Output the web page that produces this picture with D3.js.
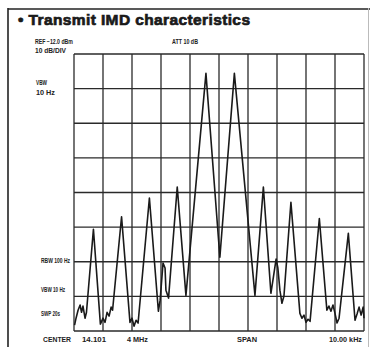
<!DOCTYPE html>
<html>
<head>
<meta charset="utf-8">
<script src="https://cdn.jsdelivr.net/npm/d3@7"></script>
<style>
  body { margin: 0; background: #fff; }
  svg { display: block; }
  .lbl { font-family: "Liberation Sans", Arial, sans-serif; font-weight: bold; font-size: 6.4px; fill: #222; }
</style>
</head>
<body>
<div id="chart"></div>
<script>
// trace: offset from center (kHz), level (dB below top line)
const traceKHz = [-4.98,-4.93,-4.86,-4.79,-4.74,-4.69,-4.62,-4.57,-4.33,-4.09,-4.0,-3.93,-3.86,-3.79,-3.72,-3.67,
  -3.36,-3.07,-3.0,-2.93,-2.86,-2.79,-2.40,-2.09,-2.03,-1.93,-1.86,-1.83,-1.74,-1.44,-1.14,-0.45,0.03,0.53,
  1.24,1.53,1.79,1.86,1.97,2.03,2.10,2.17,2.24,2.48,2.79,2.86,2.93,3.0,3.07,3.14,3.46,3.72,3.79,3.86,3.93,
  4.0,4.07,4.14,4.46,4.69,4.76,4.83,4.90,4.97,5.0];
const traceDB = [-78.3,-76.3,-74.0,-72.5,-74.6,-72.8,-76.3,-74.6,-50.6,-78.0,-76.3,-77.5,-74.6,-75.7,-73.1,-74.0,
  -47.0,-77.5,-76.3,-78.6,-76.9,-77.7,-41.6,-74.3,-71.1,-60.4,-61.8,-68.2,-70.5,-38.4,-69.7,-5.6,-58.7,-5.6,
  -69.7,-38.4,-69.1,-65.3,-59.2,-61.8,-68.2,-72.0,-69.9,-42.8,-74.9,-76.3,-75.4,-77.5,-76.6,-77.2,-47.5,-74.0,
  -72.8,-74.3,-72.5,-74.9,-77.7,-76.3,-51.8,-76.9,-75.1,-73.1,-75.4,-73.1,-76.3];

const xTicks = d3.range(-5, 5.01, 1);     // 10 divisions, 1 kHz each
const yTicks = d3.range(-80, 0.01, 10);   // 8 divisions, 10 dB each

const width = 372, height = 349;
const grid = { left: 74, right: 364, top: 54, bottom: 331 };

const svg = d3.select("#chart").append("svg")
  .attr("width", width)
  .attr("height", height);

const x = d3.scaleLinear().domain([-5, 5]).range([grid.left, grid.right]);
const y = d3.scaleLinear().domain([-80, 0]).range([grid.bottom, grid.top]);

// frame around the page
svg.append("line").attr("x1", 8).attr("x2", 370).attr("y1", 9).attr("y2", 9)
  .attr("stroke", "#222").attr("stroke-width", 1.6);
svg.append("line").attr("x1", 8).attr("x2", 8).attr("y1", 8).attr("y2", 347)
  .attr("stroke", "#222").attr("stroke-width", 1.6);
svg.append("line").attr("x1", 368.5).attr("x2", 368.5).attr("y1", 8).attr("y2", 347)
  .attr("stroke", "#bbb").attr("stroke-width", 1);

// title
svg.append("text")
  .attr("x", 18).attr("y", 25)
  .style("font-family", "'Liberation Sans', Arial, sans-serif")
  .style("font-weight", "bold")
  .style("font-size", "15.5px")
  .attr("fill", "#1a1a1a")
  .attr("stroke", "#1a1a1a")
  .attr("stroke-width", 0.7)
  .attr("textLength", 232)
  .text("• Transmit IMD characteristics");

// grid
const g = svg.append("g");
g.selectAll(".vx").data(xTicks).enter().append("line")
  .attr("x1", d => x(d)).attr("x2", d => x(d))
  .attr("y1", grid.top).attr("y2", grid.bottom)
  .attr("stroke", "#2a2a2a").attr("stroke-width", 1.3);
g.selectAll(".hy").data(yTicks).enter().append("line")
  .attr("x1", grid.left).attr("x2", grid.right)
  .attr("y1", d => y(d)).attr("y2", d => y(d))
  .attr("stroke", "#2a2a2a").attr("stroke-width", 1.3);

// spectrum trace
const pts = traceKHz.map((k, i) => [k, traceDB[i]]);
const line = d3.line().x(d => x(d[0])).y(d => y(d[1]));
svg.append("path")
  .datum(pts)
  .attr("d", line)
  .attr("fill", "none")
  .attr("stroke", "#1a1a1a")
  .attr("stroke-width", 1.6)
  .attr("stroke-linejoin", "round");

// instrument labels (condensed, as on the analyser screen print)
const labels = [
  { t: "REF  −12.0 dBm", x: 35, y: 44, w: 38 },
  { t: "ATT  10 dB", x: 172, y: 44, w: 26 },
  { t: "10 dB/DIV", x: 35, y: 53, w: 31 },
  { t: "VBW", x: 36, y: 85, w: 11 },
  { t: "10 Hz", x: 36, y: 95, w: 19 },
  { t: "RBW  100 Hz", x: 41, y: 263, w: 29 },
  { t: "VBW  10 Hz", x: 41, y: 292, w: 24 },
  { t: "SWP  20s", x: 41, y: 316, w: 19 },
  { t: "CENTER", x: 43, y: 342, w: 28 },
  { t: "14.101", x: 82, y: 342, w: 24 },
  { t: "4 MHz", x: 127, y: 342, w: 21 },
  { t: "SPAN", x: 237, y: 342, w: 20 },
  { t: "10.00 kHz", x: 329, y: 342, w: 33 }
];
svg.selectAll(".lbl").data(labels).enter().append("text")
  .attr("class", "lbl")
  .attr("x", d => d.x).attr("y", d => d.y)
  .attr("textLength", d => d.w)
  .attr("lengthAdjust", "spacingAndGlyphs")
  .text(d => d.t);
</script>
</body>
</html>
